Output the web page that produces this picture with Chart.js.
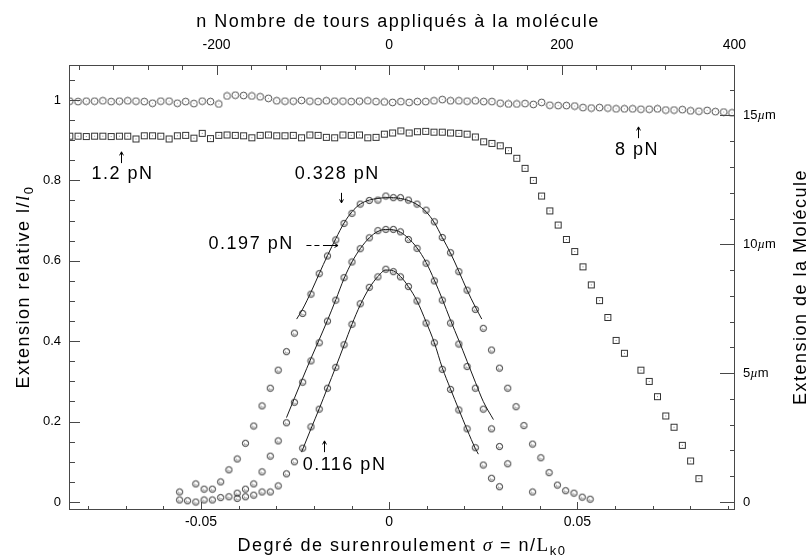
<!DOCTYPE html>
<html lang="fr">
<head>
<meta charset="utf-8">
<title>Extension relative en fonction du surenroulement</title>
<script src="https://cdn.jsdelivr.net/npm/chart.js@4.4.1/dist/chart.umd.min.js"></script>
<style>
   html, body { margin: 0; padding: 0; background: #fff; }
   #chart { display: block; }
</style>
</head>
<body>
<canvas id="chart" width="812" height="557"></canvas>
<script>
/* global Chart */

// Balayage à force élevée : même grille de sigma pour 8 pN et 1.2 pN
const scanSigma = [
   -0.0849, -0.0827, -0.0805, -0.0783, -0.0761, -0.0739, -0.0717, -0.0695, -0.0673, -0.0651,
   -0.0629, -0.0607, -0.0585, -0.0563, -0.0541, -0.0519, -0.0497, -0.0475, -0.0453, -0.0431,
   -0.0409, -0.0387, -0.0365, -0.0343, -0.0321, -0.0299, -0.0277, -0.0255, -0.0233, -0.0211,
   -0.0189, -0.0167, -0.0145, -0.0123, -0.0101, -0.0079, -0.0057, -0.0035, -0.0013, 0.0009,
   0.0031, 0.0053, 0.0075, 0.0097, 0.0119, 0.0141, 0.0163, 0.0185, 0.0207, 0.0229,
   0.0251, 0.0273, 0.0295, 0.0317, 0.0339, 0.0361, 0.0383, 0.0405, 0.0427, 0.0449,
   0.0471, 0.0493, 0.0515, 0.0537, 0.0559, 0.0581, 0.0603, 0.0625, 0.0647, 0.0669,
   0.0691, 0.0713, 0.0735, 0.0757, 0.0779, 0.0801, 0.0823, 0.0845, 0.0867, 0.0889,
   0.0911,
];

const ext8pN = [
   0.997, 0.996, 0.997, 0.997, 0.998, 0.996, 0.997, 0.998, 0.997, 0.996,
   0.992, 0.997, 0.997, 0.992, 0.996, 0.991, 0.997, 0.996, 0.990, 1.010,
   1.012, 1.011, 1.010, 1.008, 1.004, 0.998, 0.997, 0.997, 0.999, 0.997,
   0.996, 0.998, 0.997, 0.997, 0.996, 0.997, 0.998, 0.996, 0.995, 0.994,
   0.996, 0.994, 0.996, 0.996, 0.998, 1.001, 0.998, 0.998, 0.997, 0.998,
   0.996, 0.996, 0.992, 0.990, 0.990, 0.991, 0.989, 0.994, 0.987, 0.986,
   0.986, 0.985, 0.981, 0.980, 0.981, 0.980, 0.978, 0.978, 0.978, 0.977,
   0.977, 0.978, 0.975, 0.975, 0.976, 0.973, 0.972, 0.974, 0.971, 0.970,
   0.968,
];

const ext1p2pN = [
   0.910, 0.910, 0.909, 0.910, 0.910, 0.909, 0.910, 0.910, 0.903, 0.911,
   0.911, 0.910, 0.903, 0.911, 0.912, 0.905, 0.917, 0.904, 0.912, 0.913,
   0.912, 0.911, 0.906, 0.912, 0.913, 0.911, 0.911, 0.912, 0.906, 0.913,
   0.912, 0.907, 0.906, 0.913, 0.912, 0.913, 0.906, 0.907, 0.915, 0.918,
   0.923, 0.918, 0.921, 0.922, 0.920, 0.920, 0.918, 0.917, 0.915, 0.908,
   0.896, 0.892, 0.886, 0.874, 0.855, 0.830, 0.800, 0.761, 0.724, 0.689,
   0.653, 0.623, 0.585, 0.540, 0.501, 0.459, 0.402, 0.370, null, 0.328,
   0.300, 0.262, 0.214, 0.186, 0.141, 0.102, 0.058, null, null, null,
   null,
];

// Courbes en cloche à faible force
const bellSigma = [
   -0.0557, -0.0536, -0.0514, -0.0492, -0.0470, -0.0448, -0.0426, -0.0404, -0.0382, -0.0360,
   -0.0338, -0.0316, -0.0295, -0.0273, -0.0252, -0.0230, -0.0208, -0.0186, -0.0164, -0.0142,
   -0.0120, -0.0099, -0.0077, -0.0053, -0.0030, -0.0009, 0.0011, 0.0030, 0.0051, 0.0074,
   0.0098, 0.0120, 0.0141, 0.0163, 0.0185, 0.0207, 0.0229, 0.0250, 0.0272, 0.0293,
   0.0315, 0.0337, 0.0358, 0.0381, 0.0403, 0.0425, 0.0447, 0.0469, 0.0491, 0.0513,
   0.0534,
];

const ext328 = [
   0.025, null, 0.045, 0.032, 0.032, 0.050, 0.080, 0.107, 0.146, 0.189,
   0.239, 0.283, 0.328, 0.374, 0.420, 0.469, 0.517, 0.568, 0.612, 0.652,
   0.693, 0.718, 0.741, 0.750, 0.751, 0.761, 0.757, 0.757, 0.751, 0.741,
   0.726, 0.697, 0.658, 0.620, 0.573, 0.527, 0.479, 0.432, 0.378, 0.333,
   0.283, 0.237, 0.190, 0.144, 0.110, 0.073, 0.042, 0.028, 0.022, 0.012,
   0.007,
];

const ext197 = [
   0.005, 0.003, 0.000, 0.005, 0.005, 0.011, 0.013, 0.022, 0.032, 0.045,
   0.075, 0.114, 0.152, 0.197, 0.248, 0.298, 0.351, 0.396, 0.450, 0.502,
   0.558, 0.597, 0.630, 0.657, 0.675, 0.678, 0.678, 0.672, 0.653, 0.631,
   0.594, 0.550, 0.502, 0.445, 0.393, 0.337, 0.283, 0.231, 0.182, 0.138,
   0.095, null, null, 0.025, null, null, null, null, null, null,
   null,
];

const ext116 = [
   null, null, null, null, null, null, null, 0.009, 0.013, 0.017,
   0.025, 0.025, 0.040, 0.070, 0.100, 0.134, 0.187, 0.231, 0.283, 0.335,
   0.391, 0.442, 0.493, 0.534, 0.560, 0.579, 0.573, 0.560, 0.536, 0.500,
   0.445, 0.396, 0.330, 0.280, 0.229, 0.182, 0.135, 0.092, 0.059, 0.038,
   null, null, null, null, null, null, null, null, null, null,
   null,
];

// Courbes ajustées tracées par-dessus les points
const fit328Sigma = [
   -0.0246, -0.0230, -0.0208, -0.0186, -0.0164, -0.0142, -0.0120, -0.0099, -0.0077, -0.0053,
   -0.0030, -0.0009, 0.0011, 0.0030, 0.0051, 0.0074, 0.0098, 0.0120, 0.0141, 0.0163,
   0.0185, 0.0207, 0.0229, 0.0246,
];
const fit328Ext = [
   0.455, 0.480, 0.522, 0.568, 0.613, 0.655, 0.694, 0.722, 0.741, 0.751,
   0.755, 0.757, 0.757, 0.755, 0.750, 0.740, 0.722, 0.695, 0.658, 0.619,
   0.574, 0.527, 0.485, 0.455,
];

const fit197Sigma = [
   -0.0273, -0.0252, -0.0230, -0.0208, -0.0186, -0.0164, -0.0142, -0.0120, -0.0099, -0.0077,
   -0.0053, -0.0030, -0.0009, 0.0011, 0.0030, 0.0051, 0.0074, 0.0098, 0.0120, 0.0141,
   0.0163, 0.0185, 0.0207, 0.0229, 0.0250, 0.0277,
];
const fit197Ext = [
   0.210, 0.258, 0.308, 0.357, 0.404, 0.452, 0.503, 0.556, 0.597, 0.630,
   0.657, 0.673, 0.678, 0.677, 0.671, 0.656, 0.632, 0.596, 0.552, 0.505,
   0.452, 0.402, 0.350, 0.298, 0.250, 0.205,
];

const fit116Sigma = [
   -0.0233, -0.0208, -0.0186, -0.0164, -0.0142, -0.0120, -0.0099, -0.0077, -0.0053, -0.0030,
   -0.0009, 0.0011, 0.0030, 0.0051, 0.0074, 0.0098, 0.0120, 0.0141, 0.0163, 0.0185,
   0.0207, 0.0229, 0.0237,
];
const fit116Ext = [
   0.124, 0.182, 0.232, 0.284, 0.336, 0.390, 0.442, 0.490, 0.532, 0.561,
   0.577, 0.575, 0.561, 0.536, 0.500, 0.448, 0.396, 0.334, 0.281, 0.230,
   0.180, 0.133, 0.119,
];

const forceLabels = ["8 pN", "1.2 pN", "0.328 pN", "0.197 pN", "0.116 pN"];

const sigmaTicks = [-0.05, 0, 0.05];
const turnTicks = [-200, 0, 200, 400];
const extTicks = [0, 0.2, 0.4, 0.6, 0.8, 1];
const micronTicks = [0, 5, 10, 15];

const LK0 = 4360; // tours par unité de sigma
const L0_UM = 15.6; // longueur de la molécule, µm
const SIGMA_MIN = -0.0851;
const SIGMA_MAX = 0.0919;
const EXT_MIN = -0.0174;
const EXT_MAX = 1.087;

const SANS = '"Liberation Sans", Arial, sans-serif';
const NARROW = '"Liberation Sans Narrow", "Liberation Sans", Arial, sans-serif';
const SERIF = '"Liberation Serif", "DejaVu Serif", serif';

/**
 * @param {number[]} xs
 * @param {(number|null)[]} ys
 */
function toPoints(xs, ys) {
   const points = [];
   xs.forEach((x, i) => {
      if (ys[i] !== null) points.push({ x: x, y: ys[i] });
   });
   return points;
}

function range(from, to, step) {
   const values = [];
   for (let v = from; v <= to + step / 1000; v += step) {
      values.push(Math.round(v * 10000) / 10000);
   }
   return values;
}

function makeMarker(size, draw) {
   const c = document.createElement("canvas");
   c.width = size;
   c.height = size;
   draw(c.getContext("2d"), size / 2);
   return c;
}

const ringMarker = makeMarker(9, (g, m) => {
   g.strokeStyle = "#505050";
   g.lineWidth = 1;
   g.beginPath();
   g.arc(m, m, 3.4, 0, 2 * Math.PI);
   g.stroke();
   g.fillStyle = "#aaa";
   g.fillRect(m - 0.5, m - 0.5, 1, 1);
});

const squareMarker = makeMarker(9, (g) => {
   g.strokeStyle = "#333";
   g.lineWidth = 1;
   g.strokeRect(1.5, 1.5, 6, 6);
   g.fillStyle = "#888";
   g.fillRect(4, 4, 1, 1);
});

const bellMarker = makeMarker(9, (g, m) => {
   g.strokeStyle = "#222";
   g.lineWidth = 1;
   g.beginPath();
   g.arc(m, m, 3.1, 0, 2 * Math.PI);
   g.stroke();
   g.strokeStyle = "#8a8a8a";
   g.beginPath();
   g.arc(m, m + 0.4, 1.1, Math.PI * 0.1, Math.PI * 1.2);
   g.stroke();
});

function markerSet(label, data, marker) {
   return {
      label: label,
      data: data,
      pointStyle: marker,
      pointRadius: 4,
      showLine: false,
      order: 2,
   };
}

function fitSet(label, xs, ys) {
   return {
      label: label,
      data: toPoints(xs, ys),
      showLine: true,
      pointRadius: 0,
      borderColor: "#1a1a1a",
      borderWidth: 1,
      cubicInterpolationMode: "monotone",
      order: 1,
   };
}

// Draws runs of text with different fonts one after another
function drawRuns(ctx, runs, x, y, align) {
   let width = 0;
   runs.forEach((r) => {
      ctx.font = r.font;
      width += ctx.measureText(r.text).width;
   });
   let cx = align === "center" ? x - width / 2 : x;
   runs.forEach((r) => {
      ctx.font = r.font;
      ctx.fillText(r.text, cx, y + (r.dy || 0));
      cx += ctx.measureText(r.text).width;
   });
}

function arrow(ctx, x1, y1, x2, y2) {
   const angle = Math.atan2(y2 - y1, x2 - x1);
   ctx.beginPath();
   ctx.moveTo(x1, y1);
   ctx.lineTo(x2, y2);
   ctx.moveTo(x2 - 4 * Math.cos(angle - 0.5), y2 - 4 * Math.sin(angle - 0.5));
   ctx.lineTo(x2, y2);
   ctx.lineTo(x2 - 4 * Math.cos(angle + 0.5), y2 - 4 * Math.sin(angle + 0.5));
   ctx.stroke();
}

// Frame, inward tick marks, micron labels, titles and force notes
const decorPlugin = {
   id: "decor",
   afterDraw(chart) {
      const { ctx, chartArea: a, scales } = chart;
      const x = scales.x;
      const y = scales.y;
      ctx.save();

      ctx.strokeStyle = "#484848";
      ctx.lineWidth = 1;
      ctx.strokeRect(a.left + 0.5, a.top + 0.5, a.right - a.left - 1, a.bottom - a.top);

      const marks = [
         { scale: x, minor: range(-0.08, 0.09, 0.01), major: sigmaTicks, lengths: [3, 7], side: "bottom" },
         { scale: scales.xTurns, minor: range(-360, 400, 40), major: turnTicks, lengths: [5, 10], side: "top" },
         { scale: y, minor: range(0, 1.05, 0.05), major: extTicks, lengths: [6, 11], side: "left" },
         { scale: scales.yMicron, minor: range(0, 16, 1), major: micronTicks, lengths: [5, 15], side: "right" },
      ];
      marks.forEach((m) => {
         [m.minor, m.major].forEach((values, k) => {
            const len = m.lengths[k];
            values.forEach((v) => {
               const p = Math.round(m.scale.getPixelForValue(v)) + 0.5;
               ctx.beginPath();
               if (m.side === "bottom") {
                  ctx.moveTo(p, a.bottom);
                  ctx.lineTo(p, a.bottom - len);
               } else if (m.side === "top") {
                  ctx.moveTo(p, a.top);
                  ctx.lineTo(p, a.top + len);
               } else if (m.side === "left") {
                  ctx.moveTo(a.left, p);
                  ctx.lineTo(a.left + len, p);
               } else {
                  ctx.moveTo(a.right, p);
                  ctx.lineTo(a.right - len, p);
               }
               ctx.stroke();
            });
         });
      });

      ctx.fillStyle = "#000";
      ctx.textBaseline = "middle";
      micronTicks.forEach((v) => {
         const p = scales.yMicron.getPixelForValue(v);
         const runs = v === 0
            ? [{ text: "0", font: "13px " + SANS }]
            : [
               { text: String(v), font: "13px " + SANS },
               { text: "\u00b5", font: "italic 13px " + SERIF },
               { text: "m", font: "13px " + SANS },
            ];
         drawRuns(ctx, runs, a.right + 8, p, "left");
      });

      ctx.textBaseline = "alphabetic";
      ctx.letterSpacing = "1.5px";
      const big = "18px " + SANS;
      const mid = (a.left + a.right) / 2;

      drawRuns(ctx, [{ text: "n Nombre de tours appliqu\u00e9s \u00e0 la mol\u00e9cule", font: big }], mid - 4, 27, "center");

      drawRuns(ctx, [
         { text: "Degr\u00e9 de surenroulement ", font: big },
         { text: "\u03c3", font: "italic 19px " + SERIF },
         { text: " = n/", font: big },
         { text: "L", font: "19px " + SERIF },
         { text: "k0", font: "13px " + SANS, dy: 4 },
      ], mid, 551, "center");

      ctx.save();
      ctx.translate(29, (a.top + a.bottom) / 2);
      ctx.rotate(-Math.PI / 2);
      drawRuns(ctx, [
         { text: "Extension relative l/", font: big },
         { text: "l", font: "italic 19px " + SERIF },
         { text: "0", font: "13px " + SANS, dy: 4 },
      ], 0, 0, "center");
      ctx.restore();

      ctx.save();
      ctx.translate(806, (a.top + a.bottom) / 2);
      ctx.rotate(-Math.PI / 2);
      drawRuns(ctx, [{ text: "Extension de la Mol\u00e9cule", font: big }], 0, 0, "center");
      ctx.restore();

      // force labels, anchored in data units (left edge, vertical middle)
      const notes = [
         { text: forceLabels[0], sigma: 0.0600, ext: 0.876 },
         { text: forceLabels[1], sigma: -0.0791, ext: 0.816 },
         { text: forceLabels[2], sigma: -0.0251, ext: 0.817 },
         { text: forceLabels[3], sigma: -0.0480, ext: 0.642 },
         { text: forceLabels[4], sigma: -0.0230, ext: 0.092 },
      ];
      ctx.textBaseline = "middle";
      notes.forEach((n) => {
         drawRuns(ctx, [{ text: n.text, font: big }], x.getPixelForValue(n.sigma), y.getPixelForValue(n.ext), "left");
      });
      ctx.letterSpacing = "0px";

      ctx.strokeStyle = "#000";
      ctx.lineWidth = 1;
      const px = (s) => Math.round(x.getPixelForValue(s)) + 0.5;
      const py = (e) => y.getPixelForValue(e);
      arrow(ctx, px(0.0661), py(0.905), px(0.0661), py(0.933));
      arrow(ctx, px(-0.0712), py(0.843), px(-0.0712), py(0.871));
      arrow(ctx, px(-0.0129), py(0.769), px(-0.0129), py(0.744));
      arrow(ctx, px(-0.0174), py(0.124), px(-0.0174), py(0.152));

      const dashY = Math.round(py(0.639)) + 0.5;
      ctx.setLineDash([5, 3]);
      ctx.beginPath();
      ctx.moveTo(x.getPixelForValue(-0.0220), dashY);
      ctx.lineTo(x.getPixelForValue(-0.0180), dashY);
      ctx.stroke();
      ctx.setLineDash([]);
      arrow(ctx, x.getPixelForValue(-0.0176), dashY, x.getPixelForValue(-0.0136), dashY);

      ctx.restore();
   },
};

const hidden = { display: false, drawTicks: false };
const noBorder = { display: false };

new Chart(document.getElementById("chart"), {
   type: "scatter",
   data: {
      datasets: [
         fitSet("0.328 pN ajustement", fit328Sigma, fit328Ext),
         fitSet("0.197 pN ajustement", fit197Sigma, fit197Ext),
         fitSet("0.116 pN ajustement", fit116Sigma, fit116Ext),
         markerSet(forceLabels[0], toPoints(scanSigma, ext8pN), ringMarker),
         markerSet(forceLabels[1], toPoints(scanSigma, ext1p2pN), squareMarker),
         markerSet(forceLabels[2], toPoints(bellSigma, ext328), bellMarker),
         markerSet(forceLabels[3], toPoints(bellSigma, ext197), bellMarker),
         markerSet(forceLabels[4], toPoints(bellSigma, ext116), bellMarker),
      ],
   },
   options: {
      responsive: false,
      animation: false,
      devicePixelRatio: 1,
      layout: { padding: 0 },
      plugins: {
         legend: { display: false },
         tooltip: { enabled: false },
      },
      scales: {
         x: {
            type: "linear",
            position: "bottom",
            min: SIGMA_MIN,
            max: SIGMA_MAX,
            grid: hidden,
            border: noBorder,
            afterBuildTicks: (s) => {
               s.ticks = sigmaTicks.map((v) => ({ value: v }));
            },
            afterFit: (s) => {
               s.height = 48;
            },
            ticks: {
               padding: 5,
               maxRotation: 0,
               autoSkip: false,
               color: "#000",
               font: { family: NARROW, size: 14 },
               callback: (v) => String(v),
            },
         },
         xTurns: {
            type: "linear",
            position: "top",
            min: SIGMA_MIN * LK0,
            max: SIGMA_MAX * LK0,
            grid: hidden,
            border: noBorder,
            afterBuildTicks: (s) => {
               s.ticks = turnTicks.map((v) => ({ value: v }));
            },
            afterFit: (s) => {
               s.height = 65;
            },
            ticks: {
               padding: 11,
               maxRotation: 0,
               autoSkip: false,
               color: "#000",
               font: { family: NARROW, size: 14 },
               callback: (v) => String(v),
            },
         },
         y: {
            type: "linear",
            position: "left",
            min: EXT_MIN,
            max: EXT_MAX,
            grid: hidden,
            border: noBorder,
            afterBuildTicks: (s) => {
               s.ticks = extTicks.map((v) => ({ value: v }));
            },
            afterFit: (s) => {
               s.width = 69;
            },
            ticks: {
               padding: 8,
               autoSkip: false,
               color: "#000",
               font: { family: SANS, size: 13 },
               callback: (v) => String(v),
            },
         },
         yMicron: {
            type: "linear",
            position: "right",
            min: EXT_MIN * L0_UM,
            max: EXT_MAX * L0_UM,
            grid: hidden,
            border: noBorder,
            afterFit: (s) => {
               s.width = 77;
            },
            ticks: { display: false },
         },
      },
   },
   plugins: [decorPlugin],
});
</script>
</body>
</html>
